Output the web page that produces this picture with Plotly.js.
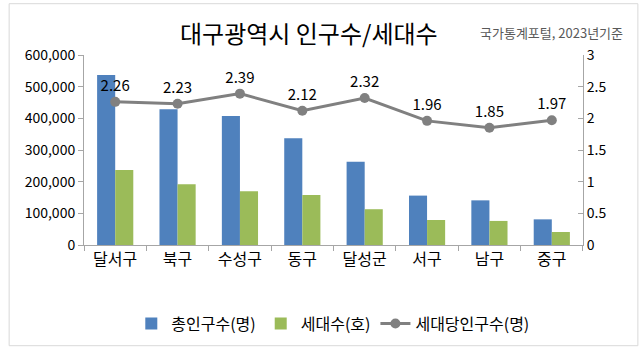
<!DOCTYPE html>
<html><head><meta charset="utf-8">
<script src="https://cdn.plot.ly/plotly-3.0.1.min.js"></script>
<style>body{margin:0;background:#fff}#c{width:640px;height:348px}</style>
</head><body><div id="c"></div>
<script>
const categories = ["달서구","북구","수성구","동구","달성군","서구","남구","중구"];
const population = [537000, 429000, 407000, 337000, 263000, 156000, 141000, 81000];
const households = [237000, 192000, 170000, 158000, 113000, 79000, 76000, 41000];
const perHousehold = [2.26, 2.23, 2.39, 2.12, 2.32, 1.96, 1.85, 1.97];

const font = "'Noto Sans CJK KR', 'Noto Sans', sans-serif";
const data = [
  {type:"bar", name:"총인구수(명)", x:categories, y:population, marker:{color:"#4F81BD"}, hoverinfo:"none"},
  {type:"bar", name:"세대수(호)", x:categories, y:households, marker:{color:"#9BBB59"}, hoverinfo:"none"},
  {type:"scatter", mode:"lines+markers+text", name:"세대당인구수(명)", x:categories, y:perHousehold, yaxis:"y2",
   line:{color:"#808080", width:3}, marker:{color:"#808080", size:10},
   text: perHousehold.map(v=>v.toFixed(2)), textposition:"top center",
   textfont:{size:15, color:"#000", family:font}, cliponaxis:false, hoverinfo:"none"}
];
const layout = {
  width:640, height:348,
  margin:{l:84, r:57, t:55, b:103, autoexpand:false},
  paper_bgcolor:"#fff", plot_bgcolor:"#fff",
  font:{family:font, size:14, color:"#000"},
  barmode:"group", bargap:0.42, bargroupgap:0,
  showlegend:true,
  legend:{orientation:"h", x:0.52, xanchor:"center", xref:"container", yref:"container", y:0.07, yanchor:"middle", font:{size:16}, traceorder:"normal"},
  xaxis:{type:"category", showline:true, linecolor:"#A6A6A6", linewidth:1, ticks:"outside", tickson:"boundaries",
         tickcolor:"#A6A6A6", ticklen:5, showgrid:false, tickfont:{size:16}, automargin:false},
  yaxis:{range:[0,600000], dtick:100000, tickformat:",", showgrid:false, showline:true, linecolor:"#A6A6A6",
         ticks:"outside", tickcolor:"#A6A6A6", ticklen:5, zeroline:false, tickfont:{size:14}, automargin:false},
  yaxis2:{overlaying:"y", side:"right", range:[0,3], dtick:0.5, showgrid:false, showline:true, linecolor:"#A6A6A6",
          ticks:"inside", tickcolor:"#A6A6A6", ticklen:5, zeroline:false, tickfont:{size:14}, automargin:false},
  annotations:[
    {text:"대구광역시 인구수/세대수", xref:"paper", yref:"paper", x:0.45, y:1.12, xanchor:"center", yanchor:"middle", showarrow:false, font:{size:24, family:font}},
    {text:"국가통계포털, 2023년기준", xref:"paper", yref:"paper", x:1.085, y:1.12, xanchor:"right", yanchor:"middle", showarrow:false, font:{size:13, color:"#595959", family:font}}
  ],
  shapes:[{type:"rect", xref:"paper", yref:"paper", x0:-0.15, x1:1.11, y0:-0.53, y1:1.27, line:{color:"#D9D9D9", width:1}}]
};
Plotly.newPlot("c", data, layout, {displayModeBar:false, staticPlot:true});
</script></body></html>
